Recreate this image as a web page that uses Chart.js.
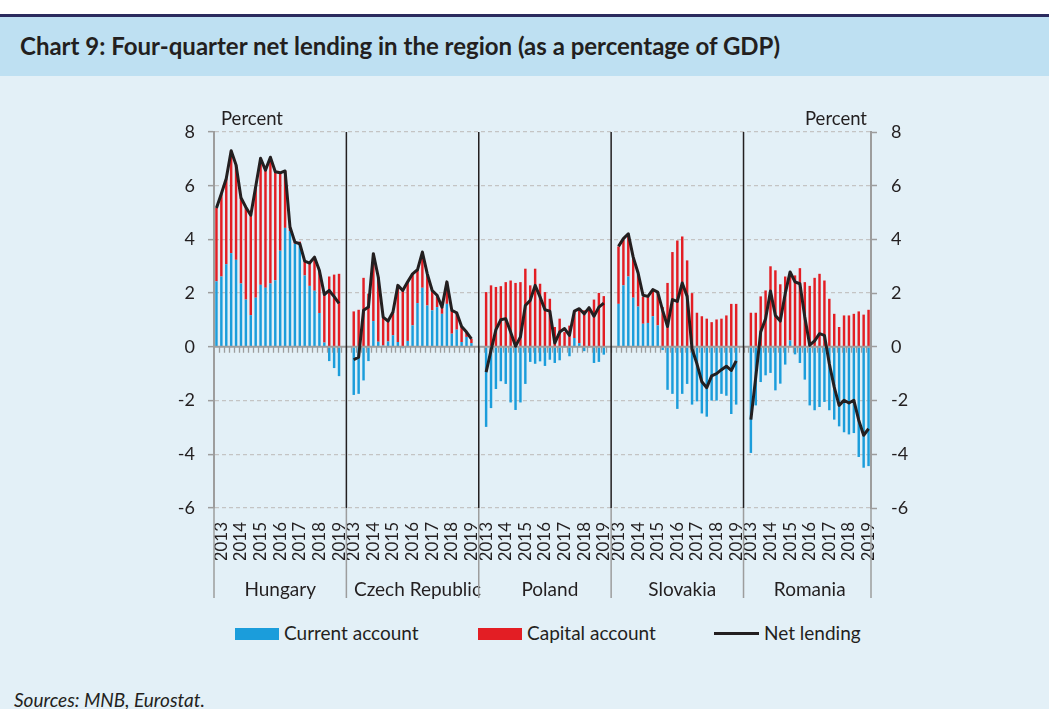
<!DOCTYPE html>
<html>
<head>
<meta charset="utf-8">
<script src="https://cdn.jsdelivr.net/npm/chart.js@4.4.1/dist/chart.umd.min.js"></script>
<style>
  body { margin: 0; width: 1049px; height: 709px; overflow: hidden; position: relative;
         background: #e3f0f7; font-family: Lato, sans-serif; color: #231f20; }
  #band { position: absolute; left: 0; top: 14px; width: 1049px; height: 62px; background: #bee0f2;
          border-top: 3px solid #2b2b5e; box-sizing: border-box; }
  #topwhite { position: absolute; left: 0; top: 0; width: 1049px; height: 14px; background: #fff; }
  #title { position: absolute; left: 20px; top: 34px; font-size: 24px; line-height: 24px; font-weight: bold; white-space: nowrap; }
  #wrap { position: absolute; left: 0; top: 90px; width: 1049px; height: 520px; }
  .sw { position: absolute; top: 628px; height: 12px; }
  .lt { position: absolute; top: 623px; font-size: 19px; line-height: 19px; white-space: nowrap; }
  #src { position: absolute; left: 14px; top: 690px; font-size: 19px; line-height: 19px; font-style: italic; white-space: nowrap; }
</style>
</head>
<body>
<div id="topwhite"></div>
<div id="band"></div>
<div id="title">Chart 9: Four-quarter net lending in the region (as a percentage of GDP)</div>
<div id="wrap"><canvas id="chart"></canvas></div>

<div class="sw" style="left:235px;width:44px;background:#1b9ddb;"></div>
<div class="lt" style="left:284px;">Current account</div>
<div class="sw" style="left:478px;width:44px;background:#e31e24;"></div>
<div class="lt" style="left:527px;">Capital account</div>
<div class="sw" style="left:714px;width:45px;top:632px;height:3px;background:#231f20;"></div>
<div class="lt" style="left:764px;">Net lending</div>
<div id="src">Sources: MNB, Eurostat.</div>

<script>
// quarterly values, percent of GDP
var years = ['2013', '2014', '2015', '2016', '2017', '2018', '2019'];

var huCurrent = [2.44, 2.62, 3.08, 3.49, 3.24, 2.36, 1.76, 1.18, 1.83, 2.31, 2.2, 2.36, 2.48,
  3.58, 4.43, 4.31, 3.84, 3.82, 2.66, 2.27, 2.09, 1.26, 0.16, -0.53, -0.79, -1.09];
var huCapital = [2.73, 3.08, 3.19, 3.81, 3.53, 3.19, 3.44, 3.72, 4.13, 4.71, 4.38, 4.7, 4.04,
  2.9, 2.12, 0.15, 0.06, 0.1, 0.53, 0.85, 1.25, 1.58, 1.79, 2.62, 2.69, 2.72];
var huNet = [5.17, 5.7, 6.27, 7.3, 6.77, 5.55, 5.2, 4.9, 5.96, 7.02, 6.58, 7.06, 6.52,
  6.48, 6.55, 4.46, 3.9, 3.84, 3.19, 3.12, 3.34, 2.84, 1.95, 2.1, 1.87, 1.62];

var czCurrent = [-1.79, -1.75, -1.25, -0.53, 0.96, 0.19, 0.05, 0.2, 0.43, 0.18, -0.05, 0.22, 0.8,
  1.63, 2.2, 1.54, 1.36, 1.48, 1.23, 1.6, 0.49, 0.64, 0.18, 0.37, 0.14];
var czCapital = [1.32, 1.38, 2.57, 1.98, 2.51, 2.41, 1.06, 0.76, 0.87, 2.11, 2.15, 2.2, 1.92,
  1.24, 1.33, 1.18, 0.74, 0.44, 0.25, 0.82, 0.87, 0.63, 0.58, 0.18, 0.16];
var czNet = [-0.48, -0.38, 1.36, 1.48, 3.47, 2.6, 1.11, 0.96, 1.3, 2.29, 2.1, 2.42, 2.72,
  2.87, 3.53, 2.72, 2.1, 1.92, 1.48, 2.42, 1.36, 1.27, 0.76, 0.55, 0.3];

var plCurrent = [-2.98, -2.28, -1.57, -1.28, -1.38, -2.07, -2.35, -2.07, -1.38, -0.56, -0.63, -0.54, -0.71,
  -0.48, -0.6, -0.5, -0.03, -0.35, 0.33, 0.14, -0.16, -0.03, -0.6, -0.56, -0.29];
var plCapital = [2.04, 2.29, 2.23, 2.26, 2.41, 2.47, 2.38, 2.41, 2.91, 2.29, 2.91, 2.35, 2.04,
  1.79, 0.74, 1.05, 0.55, 0.79, 1.0, 1.26, 1.36, 1.4, 1.76, 2.01, 1.89];
var plNet = [-0.94, -0.13, 0.64, 1.01, 1.05, 0.55, 0.02, 0.37, 1.54, 1.73, 2.29, 1.86, 1.38,
  1.33, 0.14, 0.55, 0.68, 0.43, 1.33, 1.42, 1.23, 1.46, 1.14, 1.48, 1.63];

var skCurrent = [1.6, 2.29, 2.62, 1.83, 1.5, 0.86, 0.89, 1.14, 0.8, -0.12, -1.6, -1.75, -2.31,
  -1.75, -1.38, -2.15, -2.03, -2.48, -2.6, -2.0, -2.0, -1.75, -1.82, -2.5, -2.15];
var skCapital = [2.14, 1.7, 1.59, 1.51, 1.22, 1.0, 0.97, 0.96, 1.24, 1.48, 2.38, 3.53, 3.96,
  4.11, 3.22, 2.0, 1.27, 1.14, 1.05, 0.92, 1.02, 1.05, 1.17, 1.6, 1.6];
var skNet = [3.74, 4.03, 4.21, 3.34, 2.75, 1.92, 1.88, 2.13, 2.04, 1.36, 0.76, 1.76, 1.69,
  2.38, 1.88, -0.07, -0.63, -1.3, -1.52, -1.08, -1.0, -0.85, -0.72, -0.88, -0.52];

var roCurrent = [-3.95, -2.18, -1.31, -1.06, -0.97, -1.62, -1.37, -0.66, 0.24, -0.28, -0.6, -1.22, -2.18,
  -2.36, -2.24, -2.05, -2.36, -2.71, -2.96, -3.18, -3.26, -3.21, -4.1, -4.5, -4.44];
var roCapital = [1.27, 1.27, 1.88, 2.1, 3.0, 2.85, 2.33, 2.62, 2.55, 2.66, 2.93, 2.41, 2.27,
  2.57, 2.72, 2.47, 1.79, 1.23, 0.74, 1.17, 1.17, 1.23, 1.32, 1.2, 1.38];
var roNet = [-2.71, -1.12, 0.55, 1.05, 2.08, 1.17, 0.96, 1.98, 2.79, 2.42, 2.35, 1.11, 0.06,
  0.22, 0.49, 0.43, -0.63, -1.5, -2.18, -1.99, -2.09, -1.99, -2.73, -3.29, -3.05];

var countries = ['Hungary', 'Czech Republic', 'Poland', 'Slovakia', 'Romania'];

// layout of the category axis: Hungary starts one quarter earlier (2012 Q4)
var groups = [
  { ca: huCurrent, ka: huCapital, nl: huNet, firstQ1: 1, nameAt: 13 },
  { ca: czCurrent, ka: czCapital, nl: czNet, firstQ1: 0, nameAt: 13 },
  { ca: plCurrent, ka: plCapital, nl: plNet, firstQ1: 0, nameAt: 13 },
  { ca: skCurrent, ka: skCapital, nl: skNet, firstQ1: 0, nameAt: 13 },
  { ca: roCurrent, ka: roCapital, nl: roNet, firstQ1: 0, nameAt: 12 }
];
var GAP = 2;

var labels = [], nameLabels = [], current = [], capital = [], net = [], separators = [];
groups.forEach(function (g, gi) {
  if (gi > 0) {
    for (var j = 0; j < GAP; j++) {
      if (j == 1) separators.push(labels.length);
      labels.push(''); nameLabels.push('');
      current.push(null); capital.push(null); net.push(null);
    }
  }
  var start = labels.length;
  for (var i = 0; i < g.ca.length; i++) {
    var q = i - g.firstQ1;
    labels.push(q >= 0 && q % 4 == 0 ? years[q / 4] : '');
    nameLabels.push('');
    current.push(g.ca[i]);
    capital.push(g.ka[i]);
    net.push(g.nl[i]);
  }
  nameLabels[start + g.nameAt] = countries[gi];
});
var nSlots = labels.length;

var axisGrey = '#9d9d9d';
var textCol = '#231f20';

// zero axis with small ticks, group separators, axis extensions, "Percent"
var decor = {
  id: 'decor',
  beforeDatasetDraw: function (chart, args) {
    if (args.index != 2) return;
    var ctx = chart.ctx, xs = chart.scales.x, ys = chart.scales.y;
    var y0 = ys.getPixelForValue(0), w = xs.width / nSlots;
    ctx.save();
    ctx.strokeStyle = axisGrey;
    ctx.lineWidth = 2;
    ctx.beginPath();
    ctx.moveTo(xs.left, y0); ctx.lineTo(xs.right, y0);
    ctx.stroke();
    ctx.lineWidth = 1.3;
    ctx.beginPath();
    for (var k = 1; k < nSlots; k++) {
      var x = Math.round(xs.left + k * w) + 0.5;
      ctx.moveTo(x, y0); ctx.lineTo(x, y0 + 6);
    }
    ctx.stroke();
    ctx.restore();
  },
  afterDraw: function (chart) {
    var ctx = chart.ctx, xs = chart.scales.x, ca = chart.chartArea;
    var w = xs.width / nSlots;
    var bottom = chart.scales.x2.bottom - 2;
    ctx.save();
    ctx.strokeStyle = textCol;
    ctx.lineWidth = 1.5;
    ctx.beginPath();
    separators.forEach(function (s) {
      var x = xs.left + s * w;
      ctx.moveTo(x, ca.top); ctx.lineTo(x, ca.bottom);
    });
    ctx.stroke();
    ctx.strokeStyle = axisGrey;
    ctx.lineWidth = 1.5;
    ctx.beginPath();
    [0].concat(separators, [nSlots]).forEach(function (s) {
      var x = xs.left + s * w;
      ctx.moveTo(x, ca.bottom); ctx.lineTo(x, bottom);
    });
    ctx.stroke();
    ctx.fillStyle = textCol;
    ctx.font = '18.5px Lato';
    ctx.textBaseline = 'alphabetic';
    ctx.textAlign = 'left';
    ctx.fillText('Percent', ca.left + 7, ca.top - 7);
    ctx.textAlign = 'right';
    ctx.fillText('Percent', ca.right - 4, ca.top - 7);
    ctx.restore();
  }
};

new Chart(document.getElementById('chart'), {
  type: 'bar',
  data: {
    labels: labels,
    datasets: [
      {
        label: 'Current account',
        data: current,
        backgroundColor: '#1b9ddb',
        categoryPercentage: 1,
        barPercentage: 0.5,
        order: 1
      },
      {
        label: 'Capital account',
        data: capital,
        backgroundColor: '#e31e24',
        categoryPercentage: 1,
        barPercentage: 0.5,
        order: 1
      },
      {
        type: 'line',
        label: 'Net lending',
        data: net,
        borderColor: textCol,
        borderWidth: 3,
        pointRadius: 0,
        tension: 0,
        borderJoinStyle: 'round',
        spanGaps: false,
        order: 0
      }
    ]
  },
  options: {
    responsive: true,
    maintainAspectRatio: false,
    animation: false,
    layout: { padding: { top: 42, left: 154, right: 118, bottom: 10 } },
    plugins: { legend: { display: false }, tooltip: { enabled: false } },
    scales: {
      x: {
        stacked: true,
        grid: { display: false, drawTicks: false },
        border: { display: false },
        ticks: {
          autoSkip: false, minRotation: 90, maxRotation: 90, padding: 14,
          color: textCol, font: { family: 'Lato', size: 17 }
        },
        afterFit: function (s) { s.height = 52; }
      },
      x2: {
        type: 'category',
        position: 'bottom',
        labels: nameLabels,
        offset: true,
        grid: { display: false, drawTicks: false },
        border: { display: false },
        ticks: {
          autoSkip: false, minRotation: 0, maxRotation: 0, padding: 18,
          color: textCol, font: { family: 'Lato', size: 19 }
        },
        afterFit: function (s) { s.height = 40; }
      },
      y: {
        stacked: true,
        position: 'left',
        min: -6, max: 8,
        ticks: { stepSize: 2, padding: 13, color: textCol, font: { family: 'Lato', size: 18 } },
        grid: {
          color: function (c) { return c.tick && c.tick.value === 0 ? 'rgba(0,0,0,0)' : '#c4c4c4'; },
          lineWidth: 1.3,
          tickColor: axisGrey, tickLength: 6, tickWidth: 1.5, tickBorderDash: []
        },
        border: { color: axisGrey, width: 2, dash: [4, 3] },
        afterFit: function (s) { s.width = 60; }
      },
      y2: {
        position: 'right',
        min: -6, max: 8,
        ticks: { stepSize: 2, padding: 14, color: textCol, font: { family: 'Lato', size: 18 } },
        grid: { drawOnChartArea: false, drawTicks: true, color: axisGrey, tickLength: 6, tickWidth: 1.5 },
        border: { color: axisGrey, width: 2 },
        afterFit: function (s) { s.width = 60; }
      }
    }
  },
  plugins: [decor]
});
</script>
</body>
</html>
